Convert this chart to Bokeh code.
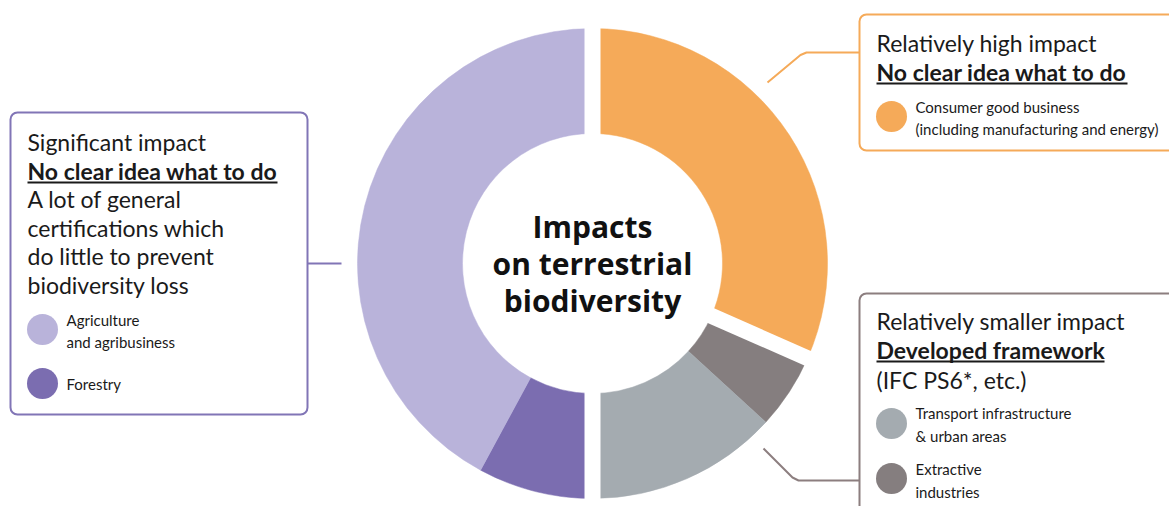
import math
from bokeh.plotting import figure
from bokeh.models import Range1d, BoxAnnotation
from bokeh.core.properties import value
from bokeh.embed import file_html
from bokeh.resources import INLINE

# ---------------- data ----------------
categories = ["Consumer good business", "Extractive industries",
              "Transport infrastructure & urban areas", "Forestry",
              "Agriculture and agribusiness"]
shares = [31.6, 5.2, 13.2, 7.9, 42.1]
colors = ["#F5AA59", "#857E7F", "#A4ABB0", "#7B6DB0", "#B9B3DA"]
# groups separated by a gap (index where a gap starts before the slice)
gap_before = [0, 1, 3]

W, H = 1169, 506
FONT = "Lato"
TXT = "#1a1a1a"
PURPLE_LINE = "#8175B6"
ORANGE_LINE = "#F5AA59"
GRAY_LINE = "#8C7E7F"

def Y(v):
    return H - v

p = figure(width=W, height=H, output_backend="svg", toolbar_location=None,
           x_range=Range1d(0, W), y_range=Range1d(0, H), min_border=0)
p.axis.visible = False
p.grid.visible = False
p.outline_line_color = None
p.background_fill_color = "white"

cx, cy = 592, Y(263)
r_in, r_out = 130, 235

total = sum(shares)
cum = [0]
for s in shares:
    cum.append(cum[-1] + s)
starts = [math.radians(90 - 360 * c / total) for c in cum[:-1]]
ends = [math.radians(90 - 360 * c / total) for c in cum[1:]]

p.annular_wedge(x=cx, y=cy, inner_radius=r_in, outer_radius=r_out,
                start_angle=starts, end_angle=ends, direction="clock",
                fill_color=colors, line_color=colors, line_width=0.5)

# white gaps between groups
for i in gap_before:
    a = starts[i]
    p.segment(x0=cx + (r_in - 5) * math.cos(a), y0=cy + (r_in - 5) * math.sin(a),
              x1=cx + (r_out + 5) * math.cos(a), y1=cy + (r_out + 5) * math.sin(a),
              line_color="white", line_width=16, line_cap="butt")

# centre title
for t, yy in [("Impacts", 226), ("on terrestrial", 263), ("biodiversity", 300)]:
    p.text(x=[cx], y=[Y(yy)], text=[t], text_font=value("Open Sans"), text_font_size="30px",
           text_font_style="bold", text_align="center", text_baseline="middle",
           text_color="#111111")

# ---------------- boxes ----------------
def box(l, r, t, b, col):
    p.add_layout(BoxAnnotation(left=l, right=r, top=Y(t), bottom=Y(b),
                               fill_color="white", fill_alpha=0.0,
                               line_color=col, line_width=2, line_alpha=1.0,
                               border_radius=7, level="underlay"))

box(10, 307, 112, 414, PURPLE_LINE)
box(859, 1185, 14, 150, ORANGE_LINE)
box(859, 1185, 293, 525, GRAY_LINE)

# connectors
p.line([307, 341], [Y(263), Y(263)], line_color=PURPLE_LINE, line_width=2)
p.line([859, 806, 800, 767], [Y(52), Y(52), Y(54.5), Y(82)],
       line_color=ORANGE_LINE, line_width=2, line_join="round")
p.line([763, 792, 798, 859], [Y(448), Y(477), Y(480), Y(480)],
       line_color=GRAY_LINE, line_width=2, line_join="round")

def txt(x, y, s, size="23px", bold=False):
    p.text(x=[x], y=[Y(y)], text=[s], text_font=value(FONT), text_font_size=size,
           text_font_style="bold" if bold else "normal", text_align="left",
           text_baseline="middle", text_color=TXT)

def uline(x0, x1, y):
    p.line([x0, x1], [Y(y), Y(y)], line_color=TXT, line_width=1.8)

# left box
txt(27, 141, "Significant impact")
txt(27, 170, "No clear idea what to do", bold=True)
uline(27, 277, 182)
for s, yy in [("A lot of general", 198), ("certifications which", 227),
              ("do little to prevent", 255), ("biodiversity loss", 284)]:
    txt(27, yy, s)

# top-right box
txt(876, 42, "Relatively high impact")
txt(876, 71, "No clear idea what to do", bold=True)
uline(876, 1127, 83)

# bottom-right box
txt(876, 320, "Relatively smaller impact")
txt(876, 349, "Developed framework", bold=True)
uline(876, 1104, 361)
txt(876, 379, "(IFC PS6*, etc.)")

# legend entries
leg_x = [42, 42, 891, 891, 891]
leg_y = [329, 383, 116, 423, 478]
leg_col = [colors[4], colors[3], colors[0], colors[2], colors[1]]
p.circle(x=leg_x, y=[Y(v) for v in leg_y], radius=15.5,
         fill_color=leg_col, line_color=None)

LS = "15px"
for x, yy, s in [(66, 319, "Agriculture"), (66, 341, "and agribusiness"),
                 (66, 383, "Forestry"),
                 (915, 106, "Consumer good business"),
                 (915, 128, "(including manufacturing and energy)"),
                 (915, 412, "Transport infrastructure"), (915, 435, "& urban areas"),
                 (915, 468, "Extractive"), (915, 491, "industries")]:
    txt(x, yy, s, size=LS)

open("out.html", "w").write(file_html(p, INLINE))
